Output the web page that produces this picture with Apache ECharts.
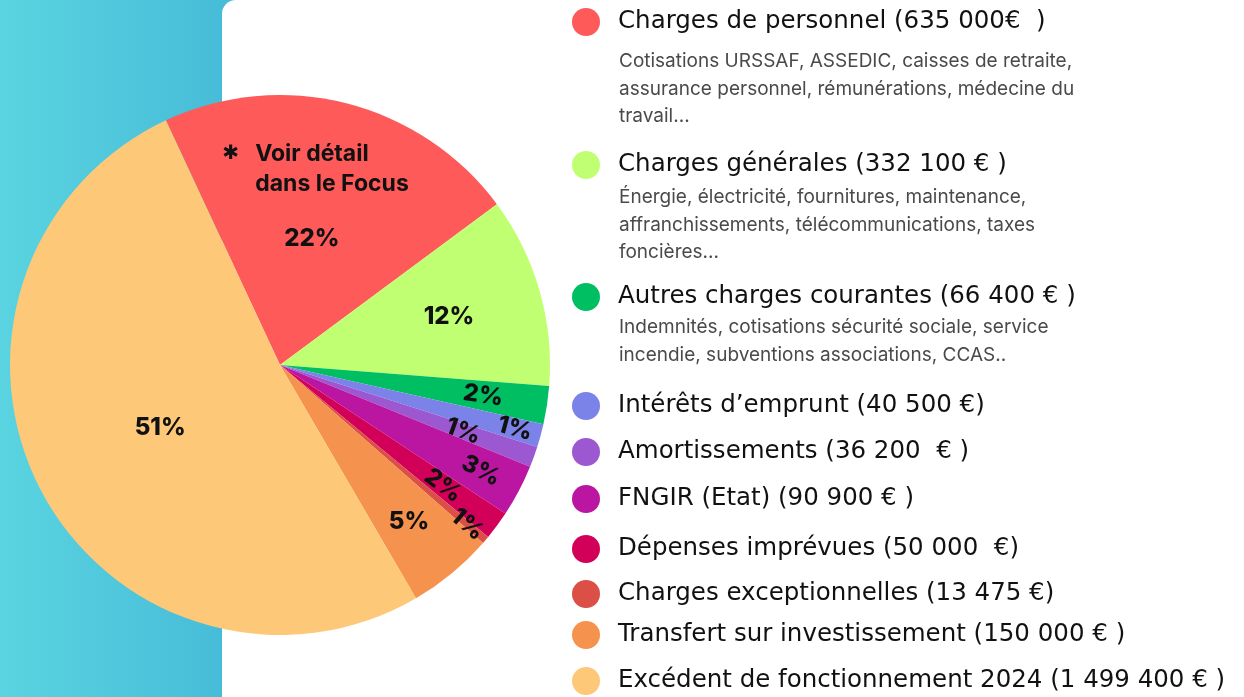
<!DOCTYPE html>
<html>
<head>
<meta charset="utf-8">
<script src="https://cdn.jsdelivr.net/npm/echarts@6/dist/echarts.min.js"></script>
<style>
  html, body { margin: 0; padding: 0; background: #fff; }
  #chart { width: 1244px; height: 697px; }
</style>
</head>
<body>
<div id="chart"></div>
<script>
// données
const categories = [
  'Charges de personnel', 'Charges générales', 'Autres charges courantes',
  'Intérêts d’emprunt', 'Amortissements', 'FNGIR (Etat)', 'Dépenses imprévues',
  'Charges exceptionnelles', 'Transfert sur investissement', 'Excédent de fonctionnement 2024',
];
const amounts = [635000, 332100, 66400, 40500, 36200, 90900, 50000, 13475, 150000, 1499400];
const amountLabels = [
  '635 000€  ', '332 100 € ', '66 400 € ', '40 500 €', '36 200  € ',
  '90 900 € ', '50 000  €', '13 475 €', '150 000 € ', '1 499 400 € ',
];
const pctLabels = ['22%', '12%', '2%', '1%', '1%', '3%', '2%', '1%', '5%', '51%'];
const descriptions = [
  ['Cotisations URSSAF, ASSEDIC, caisses de retraite,', 'assurance personnel, rémunérations, médecine du', 'travail...'],
  ['Énergie, électricité, fournitures, maintenance,', 'affranchissements, télécommunications, taxes', 'foncières...'],
  ['Indemnités, cotisations sécurité sociale, service', 'incendie, subventions associations, CCAS..'],
];
const noteLines = ['Voir détail', 'dans le Focus'];

// style / mise en page
const COLORS = ['#ff5a5a', '#c1ff72', '#00bf63', '#7b82e8', '#9b58d0', '#bb16a2',
  '#d3005a', '#dc4f46', '#f5924e', '#fdc878'];
const CX = 280, CY = 365, R = 270;
const RING = [0.47, 0.64, 0.75, 0.89, 0.71, 0.83, 0.74, 0.9, 0.74, 0.49]; // position radiale des %
const ROTATED = [false, false, true, true, true, true, true, true, false, false];
const NOTE_RING = 0.75;
const LEGEND_Y = [22, 165, 297, 406, 452, 499, 549, 594, 635, 681];
const DESC_TOP = [48, 184, 314];
const FONT = 'Inter, "Open Sans", sans-serif';
const TITLE_FONT = '"DejaVu Sans", Inter, sans-serif';

const chart = echarts.init(document.getElementById('chart'));

const pctLabel = (i) => ({
  show: true, position: 'inside', formatter: pctLabels[i],
  rotate: ROTATED[i] ? 'radial' : 0,
  color: '#111', fontFamily: FONT, fontWeight: 800, fontSize: 24,
});

const main = {
  type: 'pie', center: [CX, CY], radius: [0, R], startAngle: 115,
  avoidLabelOverlap: false, silent: true, labelLine: { show: false },
  label: { show: false },
  data: categories.map((c, i) => ({ name: c, value: amounts[i], itemStyle: { color: COLORS[i] } })),
  z: 2,
};

// séries transparentes : le milieu de l'anneau place chaque étiquette au rayon voulu
const ringRadius = (f) => (f < 0.5 ? [0, 2 * f * R] : [(2 * f - 1) * R, R]);
const rings = [...new Set(RING.concat([NOTE_RING]))];
const labelSeries = rings.map((f) => ({
  type: 'pie', center: [CX, CY], radius: ringRadius(f), startAngle: 115,
  avoidLabelOverlap: false, silent: true, labelLine: { show: false },
  itemStyle: { color: 'transparent' }, z: 3,
  data: categories.map((c, i) => {
    let label = { show: false };
    if (RING[i] === f) label = pctLabel(i);
    if (i === 0 && f === NOTE_RING) {
      label = {
        show: true, position: 'inside', padding: [6, 30, 0, 0],
        formatter: '{s|✱}{t|' + noteLines[0] + '}\n{p|}{t|' + noteLines[1] + '}',
        rich: {
          s: { width: 33, align: 'left', fontSize: 20, fontWeight: 'bold', color: '#111', fontFamily: 'DejaVu Sans', lineHeight: 30 },
          p: { width: 33, align: 'left', lineHeight: 30 },
          t: { align: 'left', fontSize: 23, fontWeight: 'bold', color: '#111', fontFamily: FONT, lineHeight: 30 },
        },
      };
    }
    return { name: c, value: amounts[i], itemStyle: { color: 'transparent' }, label };
  }),
}));

const ELLIPSE = 'path://M0 50A50 50 0 1 0 100 50A50 50 0 1 0 0 50Z';

const legends = categories.map((c, i) => ({
  data: [{ name: c, itemStyle: { color: COLORS[i] } }],
  orient: 'vertical', left: 572, top: LEGEND_Y[i] - 14, padding: 0,
  icon: ELLIPSE, itemWidth: 30, itemHeight: 28, selectedMode: false,
  formatter: (n) => n + ' (' + amountLabels[i] + ')',
  textStyle: { fontFamily: TITLE_FONT, fontSize: 24.5, color: '#111', padding: [0, 0, 0, 12] },
}));

const graphics = [
  { type: 'rect', z: -10, shape: { x: 0, y: 0, width: 260, height: 697 },
    style: { fill: new echarts.graphic.LinearGradient(0, 0, 1, 0, [
      { offset: 0, color: '#5ad4e0' }, { offset: 1, color: '#44b8d7' }]) } },
  { type: 'rect', z: -9, shape: { x: 222, y: 0, width: 1060, height: 720, r: [14, 0, 0, 0] },
    style: { fill: '#ffffff' } },
].concat(descriptions.map((lines, k) => ({
  type: 'text', z: 10, x: 619, y: DESC_TOP[k],
  style: { text: lines.join('\n'), fill: '#4a4a4a', font: '19px ' + FONT, lineHeight: 27.5 },
})));

chart.setOption({
  animation: false,
  legend: legends,
  graphic: graphics,
  series: [main].concat(labelSeries),
});
</script>
</body>
</html>
